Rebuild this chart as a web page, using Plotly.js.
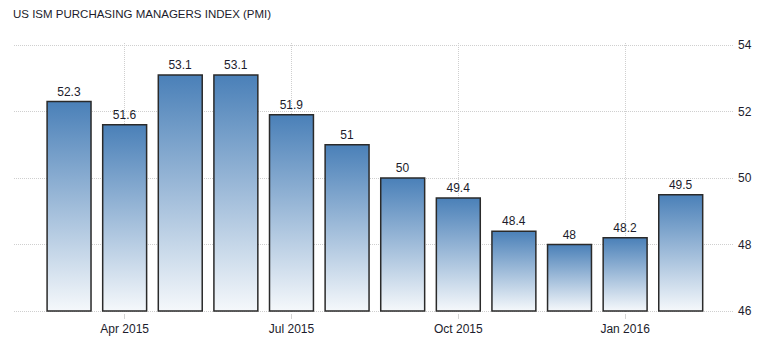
<!DOCTYPE html>
<html><head><meta charset="utf-8">
<script src="https://cdn.plot.ly/plotly-3.0.1.min.js"></script>
<style>html,body{margin:0;padding:0;background:#fff}</style>
</head><body>
<div id="chart" style="width:777px;height:341px"></div>
<script>
const months = ['Mar 2015','Apr 2015','May 2015','Jun 2015','Jul 2015','Aug 2015','Sep 2015','Oct 2015','Nov 2015','Dec 2015','Jan 2016','Feb 2016'];
const pmi = [52.3, 51.6, 53.1, 53.1, 51.9, 51, 50, 49.4, 48.4, 48, 48.2, 49.5];
const tickMonths = ['Apr 2015','Jul 2015','Oct 2015','Jan 2016'];
const yTicks = [46, 48, 50, 52, 54];
const yBase = 46;
const titleText = 'US ISM PURCHASING MANAGERS INDEX (PMI)';

const fontFam = '"Liberation Sans", Arial, sans-serif';
const textCol = '#1c1c2c';

const trace = {
  type: 'bar',
  x: months,
  y: pmi.map(v => v - yBase),
  base: yBase,
  text: pmi.map(v => String(v)),
  textposition: 'outside',
  cliponaxis: false,
  textfont: {family: fontFam, size: 12, color: textCol},
  marker: {color: '#4a80b8', line: {color: '#2a2a2a', width: 1.5}},
  hoverinfo: 'x+text'
};

const layout = {
  width: 777, height: 341,
  margin: {l: 14, r: 44, t: 43, b: 28},
  paper_bgcolor: '#fff', plot_bgcolor: '#fff',
  showlegend: false,
  bargap: 0.21,
  title: {text: titleText, x: 0, xref: 'paper', xanchor: 'left', y: 1, yref: 'container', yanchor: 'top', pad: {t: 10, l: -1},
          font: {family: fontFam, size: 11.5, color: textCol}},
  xaxis: {
    type: 'category',
    range: [-0.99, 11.94],
    tickmode: 'array', tickvals: tickMonths, ticktext: tickMonths,
    ticks: 'outside', ticklen: 5, tickcolor: '#d4d4d4',
    showgrid: true, gridcolor: '#cfcfcf', griddash: '1px,1px', gridwidth: 1,
    showline: false, zeroline: false,
    tickfont: {family: fontFam, size: 12, color: textCol}
  },
  yaxis: {
    side: 'right',
    range: [45.94, 54.06],
    tickmode: 'array', tickvals: yTicks,
    ticks: '', ticklabelstandoff: 4,
    showgrid: true, gridcolor: '#cfcfcf', griddash: '1px,1px', gridwidth: 1,
    showline: false, zeroline: false,
    tickfont: {family: fontFam, size: 12, color: textCol}
  }
};

Plotly.newPlot('chart', [trace], layout, {displayModeBar: false, staticPlot: true}).then(gd => {
  const svgNS = 'http://www.w3.org/2000/svg';
  const defs = gd.querySelector('svg.main-svg defs');
  const grad = document.createElementNS(svgNS, 'linearGradient');
  grad.setAttribute('id', 'barGrad');
  grad.setAttribute('x1', '0'); grad.setAttribute('y1', '0');
  grad.setAttribute('x2', '0'); grad.setAttribute('y2', '1');
  [['0', '#4a80b8'], ['1', '#f5f8fb']].forEach(([o, c]) => {
    const s = document.createElementNS(svgNS, 'stop');
    s.setAttribute('offset', o); s.setAttribute('stop-color', c);
    grad.appendChild(s);
  });
  defs.appendChild(grad);
  gd.querySelectorAll('.bars .point path').forEach(p => { p.style.fill = 'url(#barGrad)'; });
});
</script>
</body></html>
